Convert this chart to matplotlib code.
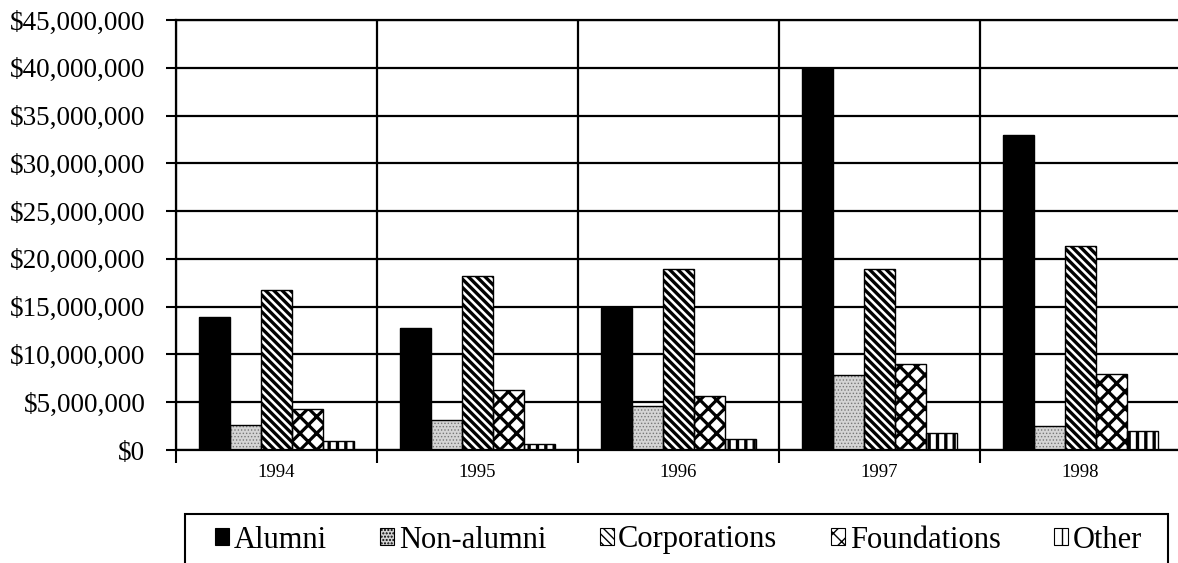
import numpy as np
import matplotlib.pyplot as plt
import matplotlib as mpl
from matplotlib.ticker import FuncFormatter

# Gifts received by source, 1994-1998 (dollars)
years = ['1994', '1995', '1996', '1997', '1998']
sources = ['Alumni', 'Non-alumni', 'Corporations', 'Foundations', 'Other']
alumni = [13900000, 12800000, 14900000, 40000000, 33000000]
non_alumni = [2600000, 3100000, 4600000, 7800000, 2500000]
corporations = [16700000, 18200000, 18900000, 18900000, 21300000]
foundations = [4300000, 6300000, 5700000, 9000000, 8000000]
other = [900000, 600000, 1200000, 1800000, 2000000]
series = [alumni, non_alumni, corporations, foundations, other]

plt.rcParams['font.family'] = ['Liberation Serif', 'DejaVu Serif']

# face, hatch, hatch line width for each source
styles = [
    ('black', None, 1.0),
    ('#d4d4d4', '.....', 0.6),
    ('white', '\\\\\\\\', 2.4),
    ('white', 'xx', 2.3),
    ('white', '||', 2.4),
]

fig = plt.figure(figsize=(11.78, 5.63), dpi=100)
ax = fig.add_axes([176 / 1178, 113 / 563, 1005 / 1178, 430 / 563])

centers = np.arange(len(years)) + 0.5
w = 0.155
handles = []
for k, (vals, (fc, hatch, hlw)) in enumerate(zip(series, styles)):
    with mpl.rc_context({'hatch.linewidth': hlw}):
        ec = '#777777' if k == 1 else 'black'
        ax.bar(centers + (k - 2) * w, vals, width=w, color=fc,
               edgecolor=ec, hatch=hatch, linewidth=0.0, zorder=3)
        # outline drawn separately so hatch colour stays independent
        ax.bar(centers + (k - 2) * w, vals, width=w, fill=False,
               edgecolor='black', linewidth=1.0, zorder=4)
    with mpl.rc_context({'hatch.linewidth': min(hlw, 1.0)}):
        h = plt.Rectangle((0, 0), 1, 1, facecolor=fc, edgecolor='black',
                          hatch=hatch, linewidth=0.8)
    handles.append(h)

ax.set_xlim(0, len(years))
ax.set_ylim(0, 45000000)
ax.set_yticks(np.arange(0, 45000001, 5000000))
ax.yaxis.set_major_formatter(FuncFormatter(lambda v, p: '${:,.0f}'.format(v)))

ax.set_xticks(np.arange(0, len(years) + 1))
ax.set_xticklabels([])
ax.set_xticks(centers, minor=True)
ax.set_xticklabels(years, minor=True, fontsize=13.5)
ax.tick_params(axis='x', which='major', direction='out', length=9, width=1.5)
ax.tick_params(axis='x', which='minor', length=0, pad=10)
ax.tick_params(axis='y', direction='out', length=7, width=1.5, labelsize=19.5, pad=15)

ax.grid(True, which='major', color='black', linewidth=1.6, zorder=1)
ax.set_axisbelow(True)
for s in ax.spines.values():
    s.set_linewidth(1.6)
    s.set_zorder(5)

# legend entries spread across the row, box drawn on its own
leg = fig.legend(handles, sources, ncol=5, loc='center left',
                 bbox_to_anchor=(215 / 1178, 3 / 563, 927 / 1178, 40 / 563),
                 mode='expand', fontsize=22, frameon=False,
                 handlelength=0.45, handleheight=0.45, handletextpad=0.15,
                 borderaxespad=0, borderpad=0)
box = plt.Rectangle((185 / 1178, -10 / 563), 983 / 1178, 59 / 563,
                    transform=fig.transFigure, fill=False,
                    edgecolor='black', linewidth=1.5)
fig.add_artist(box)

fig.savefig('out.png', dpi=100)
